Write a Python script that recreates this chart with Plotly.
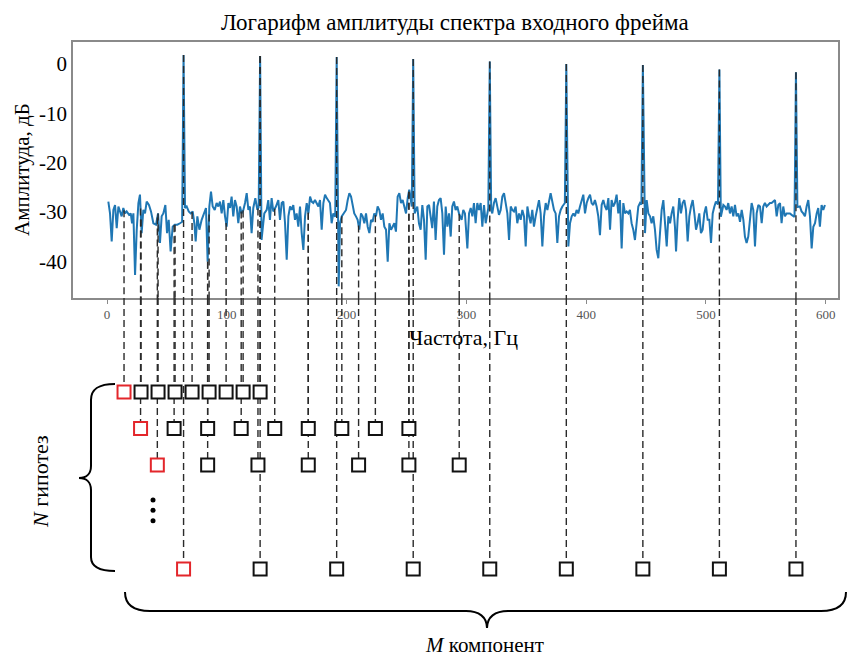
import numpy as np
import plotly.graph_objects as go

# ---------------- data ----------------
freq_hz = [
    1.1, 2.5, 3.9, 5.3, 6.7, 8.1, 9.5, 10.9, 12.2, 13.6, 15.0, 16.4, 18.4, 19.8, 20.9, 22.0, 23.4, 24.8, 26.2, 27.5,
    28.9, 30.3, 31.7, 33.1, 35.0, 36.7, 38.7, 40.9, 42.6, 44.2, 45.6, 47.0, 48.7, 50.1, 51.5, 53.1, 54.8, 56.5, 58.7, 60.9,
    62.7, 63.9, 65.1, 66.5, 68.2, 69.8, 71.5, 72.9, 74.0, 75.4, 77.1, 79.0, 81.0, 82.6, 84.0, 85.4, 86.8, 88.2, 89.9, 91.5,
    92.9, 94.3, 95.7, 97.1, 98.5, 99.9, 101.3, 102.7, 104.0, 105.4, 106.8, 108.2, 109.6, 111.0, 112.4, 113.8, 115.2, 116.6, 118.0, 119.3,
    120.7, 122.1, 123.8, 125.5, 126.6, 127.8, 129.0, 131.3, 133.3, 134.6, 136.0, 137.4, 138.8, 141.0, 143.0, 144.4, 145.8, 147.2, 148.6, 150.0,
    151.4, 152.8, 154.1, 155.5, 156.9, 158.3, 159.7, 161.1, 162.5, 163.9, 165.3, 166.7, 168.1, 169.5, 170.8, 172.2, 173.6, 175.0, 176.4, 177.8,
    179.2, 180.6, 182.0, 183.4, 184.7, 186.1, 187.5, 188.9, 190.5, 191.7, 193.4, 194.5, 195.9, 197.8, 199.5, 200.9, 202.3, 203.7, 205.1, 206.4,
    207.8, 209.2, 210.6, 212.0, 213.4, 214.8, 216.2, 217.6, 219.0, 220.4, 221.7, 223.1, 224.5, 225.9, 227.3, 228.7, 230.1, 231.5, 232.9, 234.3,
    235.7, 237.1, 238.4, 239.8, 241.2, 242.6, 244.0, 245.4, 246.8, 248.2, 249.6, 251.0, 252.3, 254.4, 255.6, 256.8, 259.0, 260.4, 261.8, 263.2,
    264.6, 266.0, 267.4, 268.8, 270.2, 271.5, 272.9, 274.3, 275.7, 277.1, 278.5, 279.9, 281.3, 282.7, 284.1, 285.5, 286.9, 288.2, 289.6, 291.0,
    292.4, 293.8, 296.0, 297.4, 298.8, 300.8, 302.2, 303.6, 305.0, 306.3, 307.7, 309.1, 310.5, 311.9, 313.3, 314.7, 316.1, 318.3, 319.5, 320.7,
    321.6, 323.0, 324.4, 325.8, 327.2, 328.6, 330.0, 331.4, 332.8, 334.2, 335.6, 337.0, 338.3, 339.7, 341.1, 342.5, 343.9, 345.3, 346.7, 348.1,
    349.5, 350.9, 352.3, 353.6, 355.0, 356.4, 357.8, 359.2, 360.6, 362.0, 363.4, 364.8, 366.2, 367.6, 369.0, 370.3, 371.7, 373.1, 374.5, 375.9,
    377.3, 378.7, 380.1, 382.2, 383.4, 385.1, 386.5, 387.9, 389.3, 390.6, 392.0, 393.4, 394.8, 396.2, 397.6, 399.0, 400.4, 401.8, 403.2, 404.5,
    405.9, 407.3, 408.7, 410.1, 411.5, 412.9, 414.3, 415.7, 417.1, 418.5, 419.9, 421.2, 422.6, 424.0, 425.4, 426.8, 428.2, 429.6, 431.0, 432.4,
    433.8, 435.2, 436.5, 437.9, 439.3, 440.7, 442.1, 443.5, 444.9, 446.1, 447.3, 449.1, 450.5, 451.9, 453.3, 454.6, 456.0, 457.4, 458.8, 460.2,
    461.6, 463.0, 464.4, 465.8, 467.2, 468.6, 470.0, 471.3, 472.7, 474.1, 475.0, 476.3, 477.7, 479.1, 480.5, 481.9, 483.3, 484.7, 486.1, 487.5,
    488.9, 490.3, 491.7, 493.0, 494.4, 495.8, 497.2, 498.6, 500.0, 501.4, 502.8, 504.2, 505.6, 507.0, 508.3, 510.0, 511.2, 512.4, 514.5, 515.9,
    517.2, 518.6, 520.0, 521.4, 522.8, 524.2, 525.6, 527.0, 528.4, 529.8, 531.2, 532.5, 533.9, 535.3, 536.7, 538.1, 539.5, 540.9, 542.3, 543.7,
    545.1, 546.5, 547.8, 549.2, 550.6, 552.0, 553.4, 554.8, 556.2, 557.6, 559.0, 560.4, 561.8, 563.1, 564.5, 565.9, 567.3, 568.7, 570.1, 571.5,
    572.9, 573.9, 575.1, 576.3, 578.4, 579.8, 581.2, 582.6, 584.0, 585.4, 586.8, 588.2, 589.6, 591.0, 592.4, 593.7, 595.1, 596.5, 597.9, 599.3,
]
amp_db = [
    -27.9, -30.3, -36.0, -29.6, -28.6, -33.3, -28.9, -29.9, -30.9, -29.2, -30.3, -29.9, -30.6, -30.3, -32.3, -30.3, -42.8, -33.6, -28.2, -26.5,
    -34.3, -29.6, -30.3, -27.9, -28.6, -29.9, -32.3, -32.6, -30.3, -36.3, -30.9, -30.3, -28.6, -34.3, -31.6, -38.0, -33.0, -32.6, -32.6, -32.3,
    -32.0, 1.8, -29.2, -28.9, -29.9, -30.3, -29.9, -32.3, -36.0, -30.9, -33.6, -31.6, -30.3, -29.2, -40.1, -28.9, -25.9, -28.9, -29.6, -28.2,
    -28.9, -27.9, -30.3, -27.6, -30.9, -33.0, -28.2, -29.2, -26.9, -30.9, -27.6, -28.9, -32.3, -28.9, -30.3, -29.6, -28.2, -26.2, -29.6, -28.9,
    -34.3, -29.2, -27.2, -29.6, -29.0, 1.6, -35.7, -30.3, -29.6, -27.6, -31.6, -27.2, -29.9, -28.9, -27.6, -31.6, -28.2, -27.9, -32.3, -39.7,
    -30.9, -28.9, -29.6, -28.6, -31.6, -30.3, -33.0, -28.9, -34.3, -37.7, -30.9, -28.2, -30.3, -26.9, -27.9, -28.2, -27.6, -28.2, -28.9, -27.6,
    -33.6, -28.2, -26.5, -27.2, -27.6, -28.2, -32.3, -30.3, -31.0, 1.4, -45.1, -32.3, -30.9, -30.3, -29.6, -27.6, -26.2, -26.9, -28.9, -30.3,
    -30.9, -31.6, -33.6, -30.3, -30.9, -32.3, -30.3, -33.0, -34.3, -31.6, -32.0, -30.3, -30.9, -28.9, -29.6, -31.6, -30.3, -33.0, -33.6, -40.1,
    -32.3, -33.6, -33.0, -32.3, -34.0, -26.9, -26.2, -28.2, -27.6, -28.9, -30.3, -27.2, -25.5, -28.9, 1.0, -30.3, -28.9, -32.3, -33.6, -28.6,
    -31.6, -39.7, -28.9, -28.6, -30.9, -33.3, -27.9, -35.7, -28.9, -27.6, -27.2, -30.3, -38.7, -28.9, -33.0, -30.3, -35.0, -28.9, -27.9, -29.6,
    -28.9, -30.3, -31.6, -29.6, -30.3, -37.4, -30.3, -29.2, -30.9, -28.2, -32.3, -28.2, -29.6, -28.2, -33.0, -28.6, -32.3, -29.2, 0.5, -29.6,
    -30.3, -28.2, -27.2, -28.9, -30.6, -29.6, -26.9, -26.2, -28.6, -30.3, -35.7, -28.9, -29.6, -29.9, -28.9, -32.3, -30.3, -31.6, -29.6, -30.9,
    -37.0, -28.9, -30.9, -32.3, -29.6, -33.0, -30.9, -28.9, -27.6, -30.3, -37.0, -30.9, -28.2, -29.6, -27.6, -26.2, -27.9, -29.6, -30.3, -36.3,
    -30.9, -29.6, -28.9, -28.2, 0.0, -37.0, -32.3, -30.9, -30.3, -30.9, -29.6, -30.3, -28.9, -27.6, -26.5, -30.3, -28.2, -27.2, -26.5, -28.2,
    -28.6, -27.6, -28.9, -30.9, -34.7, -28.6, -27.6, -28.9, -29.6, -27.2, -33.6, -27.6, -28.9, -28.2, -26.5, -30.3, -27.6, -37.4, -28.2, -30.3,
    -29.9, -30.3, -29.6, -32.3, -33.6, -35.7, -31.6, -28.9, -28.2, -28.5, -0.2, -34.3, -27.6, -30.3, -30.9, -32.3, -30.9, -33.6, -37.7, -39.4,
    -34.3, -29.6, -27.6, -33.0, -37.0, -30.9, -32.3, -30.3, -28.9, -33.0, -38.0, -31.6, -27.2, -30.3, -28.2, -27.6, -29.6, -36.0, -30.9, -28.9,
    -27.6, -30.3, -33.6, -32.3, -30.3, -34.3, -33.6, -30.3, -28.9, -31.6, -31.6, -36.3, -30.3, -28.9, -27.9, -28.5, -1.1, -31.0, -28.6, -28.9,
    -29.6, -28.2, -30.3, -28.9, -30.9, -28.6, -30.9, -30.3, -32.0, -29.6, -31.6, -35.0, -36.3, -35.0, -30.9, -28.2, -29.6, -37.0, -30.3, -28.6,
    -28.9, -32.3, -28.9, -28.2, -28.9, -28.6, -28.2, -28.2, -27.9, -27.6, -30.9, -28.6, -28.2, -32.3, -28.9, -30.9, -30.3, -30.3, -30.3, -30.6,
    -30.9, -31.0, -1.7, -29.0, -28.9, -29.9, -30.3, -30.9, -28.9, -27.6, -30.9, -37.4, -33.0, -32.3, -30.3, -29.2, -33.0, -28.6, -29.6, -28.6,
]
assert len(freq_hz) == len(amp_db), (len(freq_hz), len(amp_db))

x_ticks = [0, 100, 200, 300, 400, 500, 600]
y_ticks = [0, -10, -20, -30, -40]
y_tick_text = ["0", "-10", "-20", "-30", "-40"]

# hypotheses: fundamental frequency and number of harmonic components drawn
hyp_f0 = [14.2, 28.0, 42.0, 63.9]
hyp_count = [9, 9, 7, 9]

title_text = "Логарифм амплитуды спектра входного фрейма"
y_title = "Амплитуда, дБ"
x_title = "Частота, Гц"
n_label = "<i>N</i> гипотез"
m_label = "<i>M</i> компонент"

# ---------------- layout helpers (positions) ----------------
W, H = 853, 657
SERIF = "Liberation Serif"


def px(x):
    return x / W


def py(y):
    return 1 - y / H


X_RANGE = [-28.4, 610.2]
Y_RANGE = [-47.46, 4.46]
ROW_POS = [1, 2, 3, 5.85]          # vertical slot of each hypothesis row
DOT_POS = [3.96, 4.24, 4.53]       # vertical ellipsis
DOT_F = 38.4
Y2_RANGE = [8.26, -1.575]          # reversed: top of lower panel is -1.575

fig = go.Figure()

# spectrum
fig.add_trace(go.Scatter(x=freq_hz, y=amp_db, mode="lines",
                         line=dict(color="#1f77b4", width=2),
                         xaxis="x", yaxis="y", hoverinfo="skip"))

# dashed connectors
lx1, ly1, lx2, ly2 = [], [], [], []
sq_x, sq_y, sq_c = [], [], []
for f0, n, row in zip(hyp_f0, hyp_count, ROW_POS):
    for k in range(1, n + 1):
        f = f0 * k
        top = float(np.interp(f, freq_hz, amp_db))
        lx1 += [f, f, None]
        ly1 += [top, Y_RANGE[0], None]
        lx2 += [f, f, None]
        ly2 += [Y2_RANGE[1], row, None]
        sq_x.append(f)
        sq_y.append(row)
        sq_c.append("#e3262b" if k == 1 else "#111111")

dash_line = dict(color="#2a2a2a", width=1.4, dash="7px,4px")
fig.add_trace(go.Scatter(x=lx1, y=ly1, mode="lines", line=dash_line,
                         xaxis="x", yaxis="y", hoverinfo="skip"))
fig.add_trace(go.Scatter(x=lx2, y=ly2, mode="lines", line=dash_line,
                         xaxis="x2", yaxis="y2", hoverinfo="skip"))
fig.add_trace(go.Scatter(x=sq_x, y=sq_y, mode="markers",
                         marker=dict(symbol="square", size=13, color="white",
                                     line=dict(color=sq_c, width=2)),
                         xaxis="x2", yaxis="y2", hoverinfo="skip"))
fig.add_trace(go.Scatter(x=[DOT_F] * 3, y=DOT_POS, mode="markers",
                         marker=dict(symbol="circle", size=5, color="black"),
                         xaxis="x2", yaxis="y2", hoverinfo="skip"))


def brace_path(pts):
    """pts: list of ('M'|'L'|'C', [(x,y),...]) in pixel coordinates."""
    out = []
    for cmd, coords in pts:
        out.append(cmd + " " + " ".join(f"{px(x):.5f},{py(y):.5f}" for x, y in coords))
    return " ".join(out)


left_brace = brace_path([
    ("M", [(115, 384)]),
    ("C", [(100, 384), (91, 388), (91, 400)]),
    ("L", [(91, 466)]),
    ("C", [(91, 474), (86, 478), (79, 478)]),
    ("C", [(86, 478), (91, 482), (91, 490)]),
    ("L", [(91, 557)]),
    ("C", [(91, 567), (100, 571), (115, 571)]),
])
bottom_brace = brace_path([
    ("M", [(125, 592)]),
    ("C", [(125, 604), (133, 611), (150, 611)]),
    ("L", [(466, 611)]),
    ("C", [(479, 611), (487, 617), (487, 628)]),
    ("C", [(487, 617), (495, 611), (508, 611)]),
    ("L", [(821, 611)]),
    ("C", [(838, 611), (846, 604), (846, 592)]),
])
for p in (left_brace, bottom_brace):
    fig.add_shape(type="path", path=p, xref="paper", yref="paper",
                  line=dict(color="black", width=2))

ann_font = dict(family=SERIF, color="black")


def label(x, y, text, size, angle=0):
    fig.add_annotation(x=px(x), y=py(y), xref="paper", yref="paper", text=text,
                       xanchor="center", yanchor="middle", textangle=angle,
                       showarrow=False, font=dict(size=size, **ann_font))


label(455, 22, title_text, 23)
label(22, 170, y_title, 21, -90)
label(463, 337, x_title, 22)
label(40, 482, n_label, 22, -90)
label(485, 645, m_label, 21)

fig.update_layout(
    width=W, height=H, margin=dict(l=0, r=0, t=0, b=0),
    paper_bgcolor="white", plot_bgcolor="rgba(0,0,0,0)", showlegend=False,
    xaxis=dict(domain=[px(73), px(838)], range=X_RANGE, anchor="y",
               showline=True, linecolor="#8a8a8a", linewidth=1.5, mirror=True,
               ticks="outside", ticklen=4, tickcolor="#8a8a8a",
               tickvals=x_ticks, tickfont=dict(family=SERIF, size=13, color="#555555"),
               showgrid=False, zeroline=False),
    yaxis=dict(domain=[py(298), py(42)], range=Y_RANGE, anchor="x",
               showline=True, linecolor="#8a8a8a", linewidth=1.5, mirror=True,
               ticks="", tickvals=y_ticks, ticktext=y_tick_text,
               tickfont=dict(family=SERIF, size=21, color="black"),
               showgrid=False, zeroline=False),
    xaxis2=dict(domain=[px(73), px(838)], range=X_RANGE, anchor="y2", matches="x",
                visible=False),
    yaxis2=dict(domain=[0, py(298)], range=Y2_RANGE, anchor="x2", visible=False),
)

fig.write_html("out.html")
